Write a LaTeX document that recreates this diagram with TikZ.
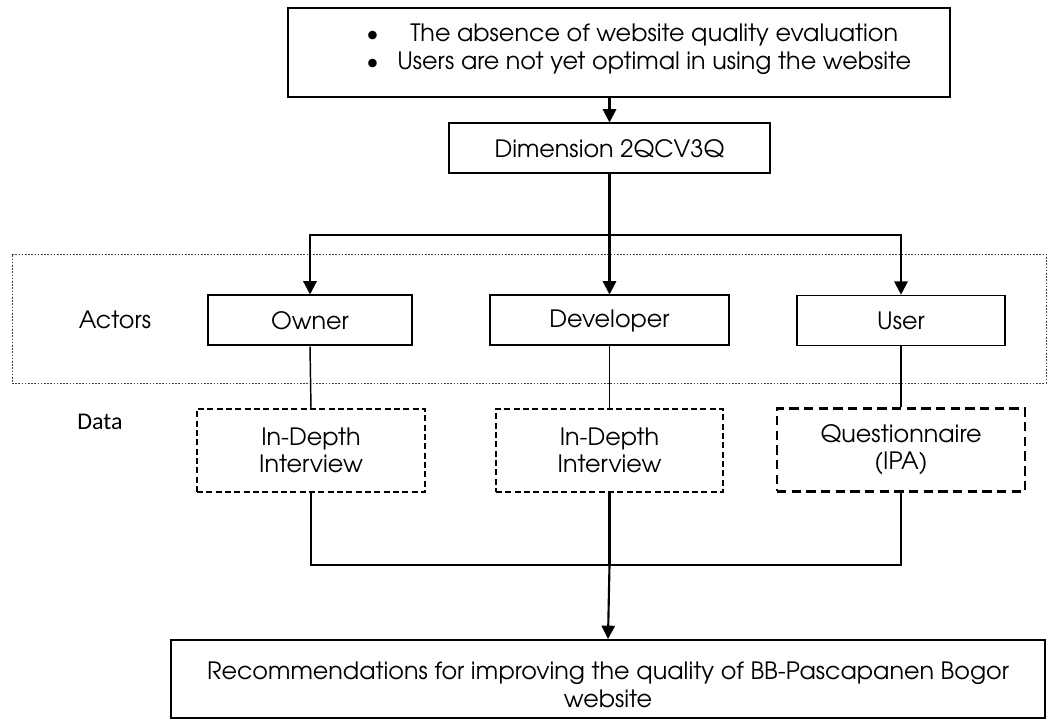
\documentclass[tikz,border=0pt]{standalone}
\usepackage{fontspec}
\setmainfont{TeX Gyre Adventor}
\newfontfamily\calibrifont{Carlito}
\usetikzlibrary{arrows.meta}

\tikzset{
	box/.style={draw, line width=1.5pt, inner sep=0pt, minimum height=37.5pt},
	databox/.style={draw, line width=0.9pt, dash pattern=on 4.5pt off 2.5pt, inner sep=0pt, align=center, minimum height=62.25pt},
	zone/.style={draw=black!75, line width=0.6pt, dash pattern=on 1.2pt off 1.2pt, inner sep=0pt},
	link/.style={line width=1.6pt},
	thinlink/.style={line width=1.1pt},
	arrowlink/.style={line width=1.6pt, -{Triangle[length=10pt,width=10pt]}}
}

\begin{document}
\begin{tikzpicture}[x=0.75pt, y=-0.75pt, font=\fontsize{17.9}{20.5}\selectfont]
				\useasboundingbox (0,0) rectangle (1047,720);
				
				\node[box, minimum width=496.5pt, minimum height=66.75pt] (problem) at (619,52.5) {};
				\node[anchor=west, inner sep=0pt] (issues) at (366,50) {\begin{tabular}{@{}c@{\hspace{14pt}}c@{}}
						\textbullet & The absence of website quality evaluation\\
						\textbullet & Users are not yet optimal in using the website
					\end{tabular}};
				
				\node[box, minimum width=240.75pt] (dim) at (609.5,148.5) {Dimension 2QCV3Q};
				
				\node[zone, minimum width=775.5pt, minimum height=96.75pt] (actorzone) at (529,318.5) {};
				\node (actors) at (115,320) {Actors};
				\node (data) at (100,422) {\calibrifont\fontsize{18}{22}\selectfont Data};
				
				\node[box, minimum width=153pt] (owner) at (310,320.5) {Owner};
				\node[box, minimum width=179.25pt] (dev) at (609.5,320.5) {Developer};
				\node[box, line width=1.2pt, minimum width=156pt] (user) at (901,320.5) {User};
				
				\node[databox, minimum width=171pt] (ownerdata) at (311,450.5) {In-Depth\\Interview};
				\node[databox, minimum width=170.25pt] (devdata) at (609.5,450.5) {In-Depth\\Interview};
				\node[databox, line width=1.7pt, dash pattern=on 7pt off 4pt, minimum width=186pt] (userdata) at (901,450) {Questionnaire\\(IPA)};
				
				\node[box, minimum width=655.5pt, minimum height=58.5pt, align=center] (result) at (608,679) {\rule{0pt}{22pt}Recommendations for improving the quality of BB-Pascapanen Bogor\\website};
				
				\coordinate (split) at (609.5,235);
				\coordinate (merge) at (609.5,565);
				
				\draw[arrowlink] (problem.south -| dim.north) -- (dim.north);
				\draw[link] (dim.south) -- (split);
				\draw[arrowlink] (split) -| (owner.north);
				\draw[arrowlink] (split) -| (user.north);
				\draw[arrowlink] (split) -- (dev.north);
				
				\draw[thinlink] (owner.south) -- (ownerdata.north);
				\draw[thinlink] (dev.south) -- (devdata.north);
				\draw[thinlink] (user.south) -- (userdata.north);
				
				\draw[link] (ownerdata.south) |- (merge);
				\draw[link] (userdata.south) |- (merge);
				\draw[link] (devdata.south) -- (merge);
				\draw[arrowlink] (merge) -- (result.north);
			\end{tikzpicture}
\end{document}
